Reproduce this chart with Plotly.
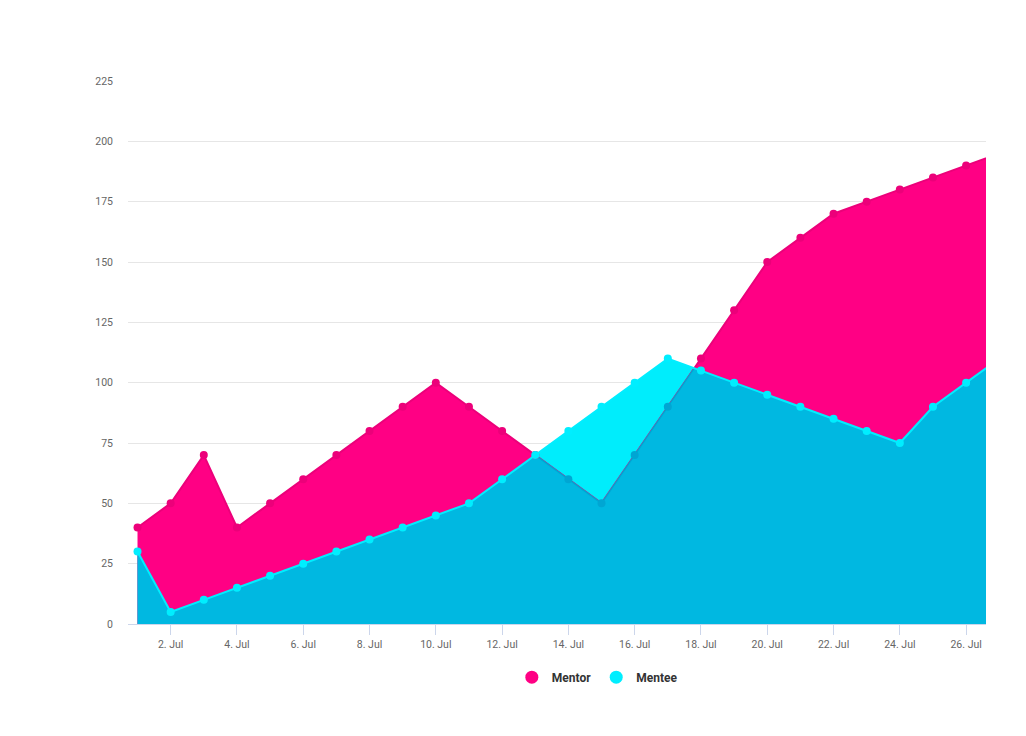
import plotly.graph_objects as go

# ---- data ----
days = [1, 2, 3, 4, 5, 6, 7, 8, 9, 10, 11, 12, 13, 14, 15, 16, 17, 18, 19, 20,
        21, 22, 23, 24, 25, 26, 27]
mentor = [40, 50, 70, 40, 50, 60, 70, 80, 90, 100, 90, 80, 70, 60, 50, 70, 90,
          110, 130, 150, 160, 170, 175, 180, 185, 190, 195]
mentee = [30, 5, 10, 15, 20, 25, 30, 35, 40, 45, 50, 60, 70, 80, 90, 100, 110,
          105, 100, 95, 90, 85, 80, 75, 90, 100, 110]
tick_days = [2, 4, 6, 8, 10, 12, 14, 16, 18, 20, 22, 24, 26]
tick_labels = [f"{d}. Jul" for d in tick_days]
y_ticks = [0, 25, 50, 75, 100, 125, 150, 175, 200, 225]

PINK = "#FF0084"
PINK_DARK = "#EC007A"
CYAN = "#00EDFC"
CYAN_LINE = "#00EEFF"
BLUE = "#00B8E1"
BLUE_DARK = "#00A6D3"

# augmented sequence including line crossings (for the overlap rendering)
ax, am, ae = [], [], []
for i in range(len(days)):
    ax.append(days[i]); am.append(mentor[i]); ae.append(mentee[i])
    if i < len(days) - 1:
        d0 = mentor[i] - mentee[i]
        d1 = mentor[i + 1] - mentee[i + 1]
        if d0 * d1 < 0:
            t = d0 / (d0 - d1)
            yc = mentor[i] + t * (mentor[i + 1] - mentor[i])
            ax.append(days[i] + t); am.append(yc); ae.append(yc)
overlap = [min(a, b) for a, b in zip(am, ae)]
mentor_under = [a if a <= b + 1e-9 else None for a, b in zip(am, ae)]

fig = go.Figure()
fig.add_trace(go.Scatter(x=days, y=mentee, mode="lines", fill="tozeroy",
                         fillcolor=CYAN, line=dict(width=0, color=CYAN),
                         showlegend=False, hoverinfo="skip"))
fig.add_trace(go.Scatter(x=days, y=mentor, mode="lines", fill="tozeroy",
                         fillcolor=PINK, line=dict(width=2, color=PINK_DARK),
                         showlegend=False, hoverinfo="skip"))
fig.add_trace(go.Scatter(x=ax, y=overlap, mode="lines", fill="tozeroy",
                         fillcolor=BLUE, line=dict(width=0, color=BLUE),
                         showlegend=False, hoverinfo="skip"))
fig.add_trace(go.Scatter(x=ax, y=mentor_under, mode="lines",
                         line=dict(width=1.5, color=BLUE_DARK),
                         connectgaps=False, showlegend=False, hoverinfo="skip"))
fig.add_trace(go.Scatter(x=days, y=mentor, mode="markers",
                         marker=dict(size=8, color=[PINK_DARK if m >= e else BLUE_DARK
                                                    for m, e in zip(mentor, mentee)]),
                         showlegend=False, name="Mentor"))
fig.add_trace(go.Scatter(x=days, y=mentee, mode="lines+markers",
                         line=dict(width=2, color=CYAN_LINE),
                         marker=dict(size=8, color=CYAN_LINE),
                         showlegend=False, name="Mentee"))
# legend entries
fig.add_trace(go.Scatter(x=[None], y=[None], mode="markers", name="Mentor",
                         marker=dict(size=13, color=PINK)))
fig.add_trace(go.Scatter(x=[None], y=[None], mode="markers", name="Mentee",
                         marker=dict(size=13, color=CYAN_LINE)))

FONT = "Roboto, sans-serif"
fig.update_layout(
    width=1026, height=736,
    margin=dict(l=120, r=48, t=73, b=120),
    paper_bgcolor="white", plot_bgcolor="white",
    font=dict(family=FONT, color="#666666", size=10),
    showlegend=True,
    legend=dict(orientation="h", x=0.547, xanchor="center", y=-0.098,
                yanchor="middle",
                font=dict(family=FONT, size=12, color="#333333", weight="bold"),
                itemwidth=30),
    xaxis=dict(range=[0.713, 26.6], tickmode="array", tickvals=tick_days,
               ticktext=tick_labels, showgrid=False, zeroline=False,
               showline=True, linecolor="#ccd6eb", linewidth=1,
               ticks="outside", ticklen=10, tickcolor="#ccd6eb",
               tickfont=dict(size=10.5, color="#666666")),
    yaxis=dict(range=[0, 225], tickmode="array", tickvals=y_ticks,
               showgrid=True, gridcolor="#e6e6e6", gridwidth=1,
               zeroline=False, showline=False, ticks="",
               ticklabelstandoff=14, tickfont=dict(size=10.5, color="#666666")),
)
fig.write_html("out.html")
